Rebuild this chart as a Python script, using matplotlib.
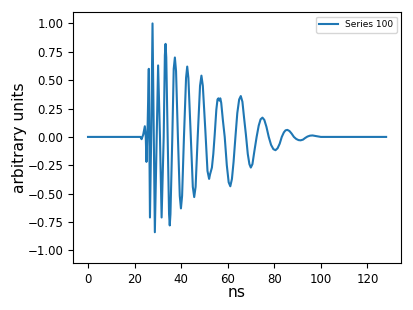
import matplotlib
matplotlib.use("Agg")
import matplotlib.pyplot as plt

# waveform (ns, arbitrary units)
t_ns = [0, 20, 22.5, 23.0, 23.7, 24.4, 24.8, 25.1, 25.6, 26.1, 26.6, 27.2, 27.7,
        28.2, 28.7, 29.4, 30.1, 30.9, 31.6, 32.5, 33.0, 33.3, 33.6, 34.2, 34.8,
        35.1, 35.4, 36.2, 36.8, 37.3, 37.8, 38.6, 39.4, 39.9, 40.4, 41.2, 42.1,
        42.6, 43.1, 44.1, 45.0, 45.6, 46.2, 47.1, 48.1, 48.7, 49.3, 50.4, 51.3,
        52.0, 52.4, 52.8, 53.2, 53.8, 54.4, 55.1, 55.6, 56.0, 56.4, 56.8, 57.2,
        57.9, 58.7, 59.6, 60.4, 61.1, 61.8, 62.5, 63.3, 64.1, 64.9, 65.6, 66.3,
        67.0, 67.8, 68.6, 69.3, 69.9, 70.6, 71.4, 72.4, 73.3, 74.1, 74.9, 75.7,
        76.6, 77.6, 78.6, 79.6, 80.5, 81.4, 82.3, 83.2, 84.1, 84.8, 85.6, 86.5,
        87.4, 88.4, 89.4, 90.4, 91.3, 92.3, 93.2, 94.2, 95.3, 96.4, 98.0, 100, 128]
amp = [0, 0.0, 0, -0.02, 0.02, 0.094, 0.0, -0.22, 0.1, 0.60, -0.71, 0.1, 1.00,
       0.1, -0.84, -0.1, 0.63, 0.0, -0.71, 0.0, 0.72, 0.82, 0.70, 0.0, -0.68,
       -0.78, -0.68, 0.0, 0.60, 0.70, 0.58, 0.0, -0.52, -0.63, -0.52, 0.0, 0.52,
       0.62, 0.52, 0.02, -0.44, -0.53, -0.44, 0.0, 0.45, 0.54, 0.45, 0.05, -0.30,
       -0.37, -0.33, -0.30, -0.27, -0.15, 0.02, 0.24, 0.33, 0.34, 0.32, 0.34, 0.30,
       0.15, 0.0, -0.25, -0.40, -0.435, -0.37, -0.22, 0.0, 0.21, 0.33, 0.36, 0.31,
       0.17, 0.02, -0.15, -0.24, -0.27, -0.24, -0.13, 0.0, 0.10, 0.155, 0.17, 0.15,
       0.09, 0.0, -0.07, -0.108, -0.117, -0.10, -0.06, 0.0, 0.04, 0.058, 0.062, 0.052,
       0.03, 0.0, -0.018, -0.028, -0.03, -0.024, -0.01, 0.003, 0.011, 0.013, 0.007, 0.0, 0]

fig = plt.figure(figsize=(4.13, 3.10), dpi=100)
ax = fig.add_axes([0.177, 0.152, 0.794, 0.809])
ax.plot(t_ns, amp, color='#1f77b4', lw=1.5, label='Series 100')
ax.set_ylim(-1.11, 1.10)
ax.set_yticks([-1, -0.75, -0.5, -0.25, 0, 0.25, 0.5, 0.75, 1.0])
ax.set_xticks([0, 20, 40, 60, 80, 100, 120])
ax.tick_params(labelsize=8.5)
ax.set_xlabel('ns', fontsize=11.2)
ax.set_ylabel('arbitrary units', fontsize=11.2)
ax.xaxis.set_label_coords(0.5, -0.088)
ax.yaxis.set_label_coords(-0.14, 0.5)
ax.legend(loc='upper right', fontsize=6.5)

fig.savefig('out.png')
